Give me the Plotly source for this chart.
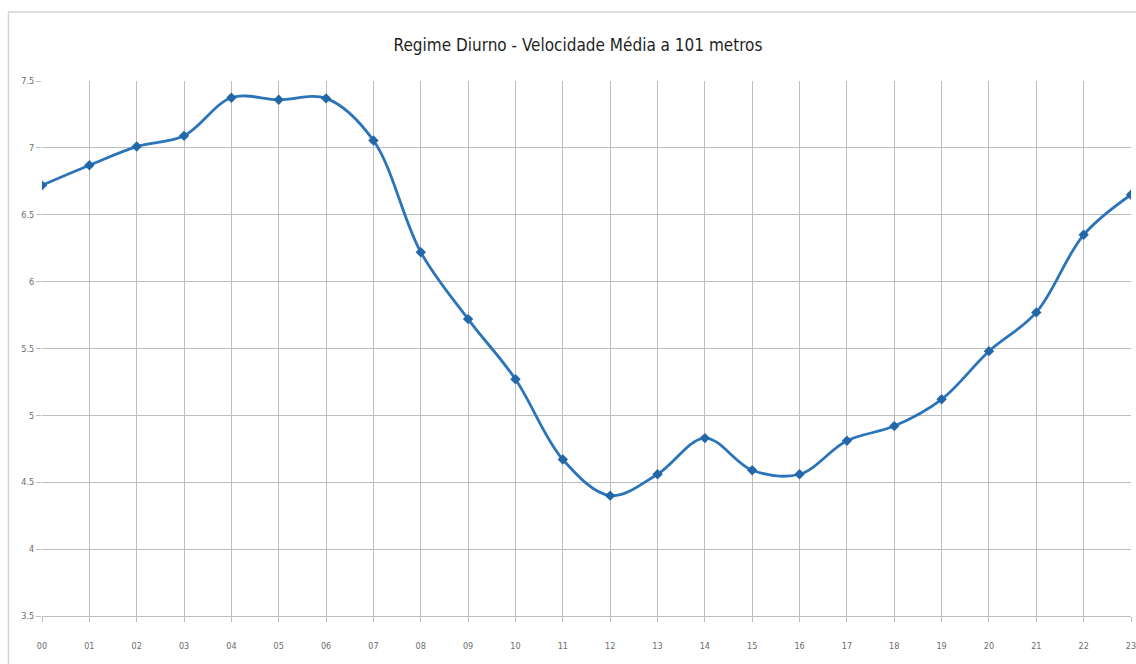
import plotly.graph_objects as go

hours = ["00", "01", "02", "03", "04", "05", "06", "07", "08", "09", "10", "11",
         "12", "13", "14", "15", "16", "17", "18", "19", "20", "21", "22", "23"]
speed = [6.72, 6.87, 7.01, 7.09, 7.375, 7.36, 7.37, 7.055, 6.22, 5.72, 5.27, 4.67,
         4.40, 4.56, 4.83, 4.59, 4.56, 4.81, 4.92, 5.12, 5.48, 5.77, 6.35, 6.65]
y_ticks = [3.5, 4, 4.5, 5, 5.5, 6, 6.5, 7, 7.5]
y_ticktext = ["3.5", "4", "4.5", "5", "5.5", "6", "6.5", "7", "7.5"]

W, H = 1136, 664
L, R, T, B = 42, 1136 - 1131, 81, 664 - 616

fig = go.Figure()
fig.add_trace(go.Scatter(
    x=list(range(len(hours))), y=speed, mode="lines+markers",
    line=dict(color="#2b74ba", width=2.8, shape="spline", smoothing=1),
    marker=dict(symbol="diamond", size=8, color="#2467a8"),
    hoverinfo="x+y", showlegend=False,
))

grid = "#bdbdbd"
tickfont = dict(family="DejaVu Sans Condensed, Liberation Sans, sans-serif", size=9, color="#6b6b6b")
fig.update_layout(
    width=W, height=H,
    margin=dict(l=L, r=R, t=T, b=B, autoexpand=False),
    paper_bgcolor="white", plot_bgcolor="white",
    title=dict(text="Regime Diurno - Velocidade Média a 101 metros",
               x=578 / W, xanchor="center", y=1 - 45 / H, yanchor="middle",
               font=dict(family="DejaVu Sans Condensed, Liberation Sans, sans-serif", size=17, color="#1f1f1f")),
    xaxis=dict(range=[0, 23], tickmode="array", tickvals=list(range(len(hours))), ticktext=hours,
               showgrid=True, gridcolor=grid, gridwidth=1, zeroline=False,
               showline=True, linecolor=grid, linewidth=1,
               ticks="outside", ticklen=5, tickcolor=grid, ticklabelstandoff=16,
               ticklabeloverflow="allow", tickfont=tickfont),
    yaxis=dict(range=[3.5, 7.5], tickmode="array", tickvals=y_ticks, ticktext=y_ticktext,
               showgrid=True, gridcolor=grid, gridwidth=1, zeroline=False,
               showline=False, ticks="outside", ticklen=5, tickcolor=grid,
               tickfont=tickfont),
)

pw, ph = W - L - R, H - T - B
def px_x(v):
    return (v - L) / pw
def px_y(v):
    return (H - B - v) / ph
fig.add_shape(type="rect", xref="paper", yref="paper",
              x0=px_x(8.5), x1=px_x(1142), y0=px_y(670), y1=px_y(12),
              line=dict(color="#d4d4d4", width=1.5), fillcolor="rgba(0,0,0,0)", layer="below")

fig.write_html(
    "out.html",
    config={"displayModeBar": False},
    post_script="document.body.style.margin='0';document.documentElement.style.overflow='hidden';document.body.style.overflow='hidden';",
)
